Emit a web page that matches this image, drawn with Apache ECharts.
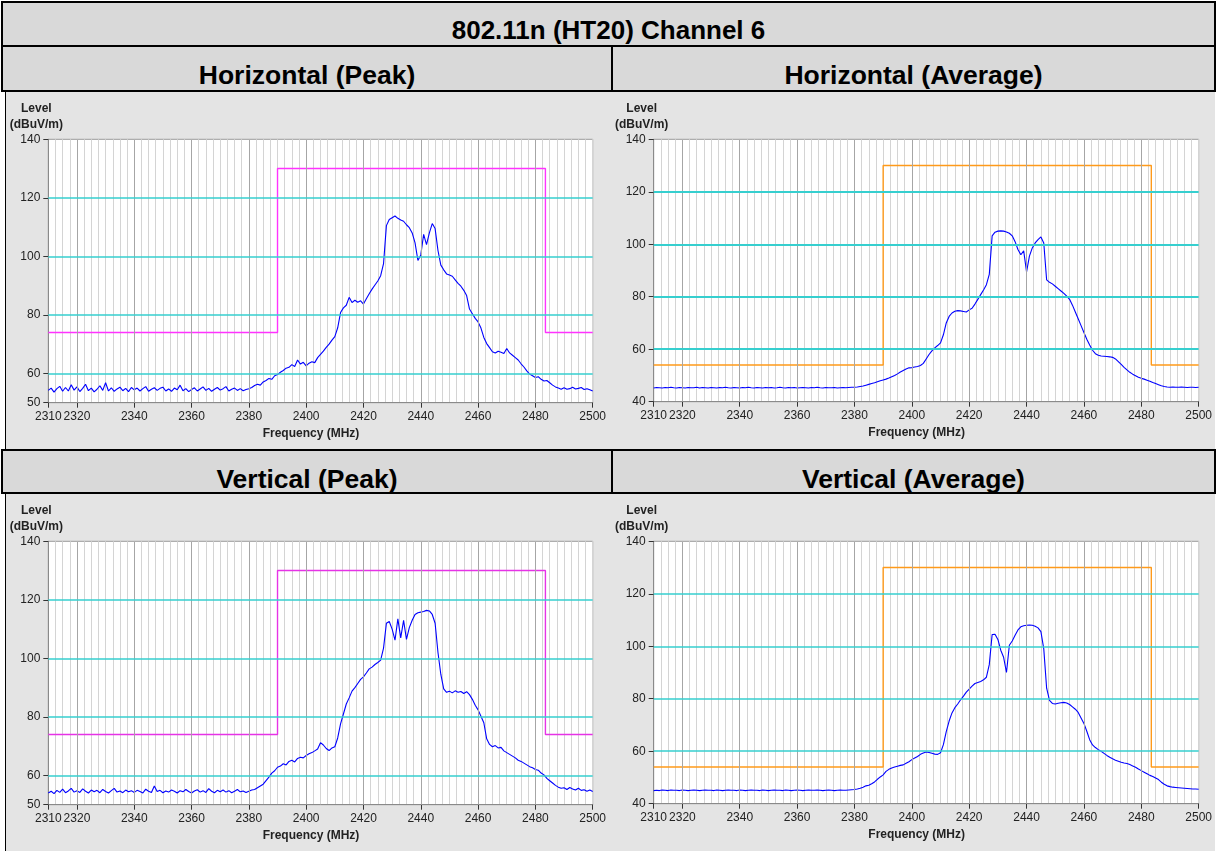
<!DOCTYPE html>
<html>
<head>
<meta charset="utf-8">
<title>802.11n (HT20) Channel 6</title>
<script src="https://cdn.jsdelivr.net/npm/echarts@6/dist/echarts.min.js"></script>
<style>
  html, body { margin: 0; padding: 0; background: #fff; }
  body { width: 1217px; height: 851px; position: relative; overflow: hidden; font-family: Arial, 'Liberation Sans', sans-serif; }
  .cell { position: absolute; background: #d9d9d9; }
  .txt { position: absolute; font-weight: bold; color: #000; text-align: center; height: 30px; line-height: 30px; white-space: nowrap; }
  .line { position: absolute; background: #000; }
  .chart { position: absolute; background: #e4e4e4; }
</style>
</head>
<body>
  <!-- header cells -->
  <div class="cell" style="left:3px;top:3px;width:1211px;height:42px;"></div>
  <div class="cell" style="left:3px;top:47px;width:608px;height:43px;"></div>
  <div class="cell" style="left:613px;top:47px;width:601px;height:43px;"></div>
  <div class="cell" style="left:3px;top:451px;width:608px;height:41px;"></div>
  <div class="cell" style="left:613px;top:451px;width:601px;height:41px;"></div>

  <div class="txt" style="left:3px;top:15px;width:1211px;font-size:26px;">802.11n (HT20) Channel 6</div>
  <div class="txt" style="left:3px;top:60px;width:608px;font-size:26.5px;">Horizontal (Peak)</div>
  <div class="txt" style="left:613px;top:60px;width:601px;font-size:26.5px;">Horizontal (Average)</div>
  <div class="txt" style="left:3px;top:464px;width:608px;font-size:26.5px;">Vertical (Peak)</div>
  <div class="txt" style="left:613px;top:464px;width:601px;font-size:26.5px;">Vertical (Average)</div>

  <!-- charts -->
  <div class="chart" id="hPeak" style="left:6px;top:92px;width:606px;height:357px;"></div>
  <div class="chart" id="hAvg" style="left:612px;top:92px;width:603px;height:357px;"></div>
  <div class="chart" id="vPeak" style="left:6px;top:494px;width:606px;height:357px;"></div>
  <div class="chart" id="vAvg" style="left:612px;top:494px;width:603px;height:357px;"></div>

  <!-- table rules -->
  <div class="line" style="left:1px;top:1px;width:1215px;height:2px;"></div>
  <div class="line" style="left:1px;top:1px;width:2px;height:91px;"></div>
  <div class="line" style="left:1px;top:449px;width:2px;height:45px;"></div>
  <div class="line" style="left:5px;top:92px;width:1px;height:357px;"></div>
  <div class="line" style="left:5px;top:494px;width:1px;height:357px;"></div>
  <div class="line" style="left:1214px;top:1px;width:2px;height:91px;"></div>
  <div class="line" style="left:1214px;top:449px;width:2px;height:45px;"></div>
  <div class="line" style="left:1px;top:45px;width:1215px;height:2px;"></div>
  <div class="line" style="left:1px;top:90px;width:1215px;height:2px;"></div>
  <div class="line" style="left:1px;top:449px;width:1215px;height:2px;"></div>
  <div class="line" style="left:1px;top:492px;width:1215px;height:2px;"></div>
  <div class="line" style="left:611px;top:45px;width:2px;height:47px;"></div>
  <div class="line" style="left:611px;top:449px;width:2px;height:45px;"></div>

<script>
// frequency grid of the traces (MHz), one point per MHz
var FREQ_START = 2310
var FREQ_END = 2500
var freqTicks = [2310, 2320, 2340, 2360, 2380, 2400, 2420, 2440, 2460, 2480, 2500]
var majorFreqs = [2320, 2340, 2360, 2380, 2400, 2420, 2440, 2460, 2480]
var peakTicks = [50, 60, 80, 100, 120, 140]
var avgTicks = [40, 60, 80, 100, 120, 140]
var levelGrid = [60, 80, 100, 120]

// limit line
var limitFreqs = [2310, 2390, 2390, 2483.5, 2483.5, 2500]
var peakLimit = [74, 74, 130, 130, 74, 74]
var avgLimit = [54, 54, 130, 130, 54, 54]

// measured levels, dBuV/m, 2310..2500 MHz
var horPeak = [
  54.2, 55.0, 53.6, 54.8, 55.6, 53.9, 55.2, 54.0, 56.1, 54.3,
  55.4, 53.8, 54.9, 56.3, 54.1, 55.0, 53.7, 54.6, 55.8, 54.2,
  56.8, 54.0, 55.1, 53.9, 54.7, 55.3, 54.1, 54.9, 53.8, 55.2,
  54.4, 55.0, 54.0, 54.8, 55.5, 53.9, 54.6, 55.1, 54.2, 54.9,
  55.3, 54.0, 54.7, 53.9, 55.0, 54.4, 56.0, 54.1, 54.8, 53.8,
  54.5, 55.1, 54.0, 54.7, 55.4, 54.2, 54.9, 53.9, 54.6, 55.2,
  54.3, 54.8, 55.5, 54.0, 54.6, 55.0, 54.2, 54.8, 54.1, 54.5,
  54.8, 55.2, 55.9, 56.3, 56.0, 57.1, 57.6, 58.3, 58.0, 59.2,
  59.6, 60.4, 61.0, 61.8, 62.1, 63.0, 62.4, 64.6, 63.2, 63.8,
  62.6, 63.5, 64.0, 63.7, 65.4, 66.5, 67.6, 68.9, 70.0, 71.4,
  72.6, 75.6, 80.8, 82.4, 83.3, 86.0, 84.2, 85.0, 84.3, 84.8,
  83.7, 85.5, 87.2, 88.8, 90.2, 91.6, 93.4, 97.5, 110.5, 112.6,
  113.2, 113.8, 113.0, 112.4, 112.0, 110.8, 109.8, 108.0, 104.6, 98.6,
  100.5, 107.5, 104.0, 108.0, 111.2, 109.5, 102.0, 97.0, 95.4, 94.0,
  93.6, 93.2, 92.0, 90.8, 89.8, 88.4, 86.6, 82.0, 80.4, 78.8,
  77.6, 75.5, 72.3, 70.2, 68.8, 67.4, 67.0, 67.6, 67.2, 66.8,
  68.5, 67.0, 66.2, 65.4, 64.6, 63.3, 62.2, 60.9, 59.8, 59.2,
  58.6, 58.9, 58.0, 57.4, 57.6, 56.8, 56.0, 55.4, 55.0, 54.6,
  55.1, 54.6, 54.8, 55.3, 54.7, 54.9, 55.2, 54.5, 54.8, 54.4,
  54.0
]
var horAvg = [
  45.2, 45.4, 45.3, 45.2, 45.4, 45.3, 45.5, 45.3, 45.2, 45.4,
  45.3, 45.2, 45.4, 45.3, 45.3, 45.5, 45.2, 45.4, 45.3, 45.2,
  45.4, 45.3, 45.2, 45.4, 45.3, 45.5, 45.3, 45.2, 45.4, 45.3,
  45.2, 45.4, 45.3, 45.5, 45.3, 45.2, 45.4, 45.3, 45.2, 45.4,
  45.3, 45.4, 45.2, 45.3, 45.5, 45.3, 45.2, 45.4, 45.3, 45.4,
  45.2, 45.3, 45.4, 45.3, 45.2, 45.4, 45.3, 45.5, 45.3, 45.2,
  45.4, 45.3, 45.3, 45.4, 45.2, 45.3, 45.4, 45.3, 45.4, 45.5,
  45.5, 45.6, 45.8, 46.0, 46.3, 46.6, 46.9, 47.2, 47.6, 48.0,
  48.3, 48.6, 49.0, 49.5, 50.0, 50.6, 51.3, 51.9, 52.5, 52.9,
  53.0, 53.2, 53.4, 53.8, 54.6, 56.3, 58.0, 59.4, 60.5, 61.4,
  62.4, 65.5, 70.0, 72.5, 73.8, 74.5, 74.7, 74.6, 74.4, 74.2,
  75.0, 75.6, 77.2, 79.0, 80.8, 82.6, 84.6, 88.5, 103.2, 104.6,
  105.0, 105.1, 105.0, 104.7, 104.2, 103.2, 101.0, 98.0, 96.0, 97.5,
  89.5, 95.5, 98.6, 100.5, 101.8, 102.8, 100.5, 86.4, 85.5, 84.9,
  84.0, 83.1, 82.2, 81.3, 80.2, 79.0, 76.8, 74.2, 71.6, 69.0,
  66.4, 63.8, 61.6, 59.6, 58.3, 57.7, 57.4, 57.3, 57.2, 57.1,
  56.9, 56.3, 55.3, 54.2, 53.1, 52.1, 51.2, 50.5, 49.9, 49.3,
  48.9, 48.6, 48.2, 47.8, 47.3, 46.9, 46.5, 46.1, 45.8, 45.6,
  45.5, 45.6, 45.5, 45.5, 45.6, 45.5, 45.4, 45.5, 45.5, 45.4,
  45.5
]
var verPeak = [
  54.0, 54.6, 53.8, 54.9, 54.2, 55.3, 54.1, 54.7, 55.6, 54.3,
  54.8, 54.2, 55.4, 54.6, 54.0, 55.0, 54.4, 54.9, 54.1, 55.2,
  54.5, 54.0, 54.8, 55.6, 54.3, 54.7, 54.1, 55.0, 54.4, 54.8,
  54.2, 54.9, 54.5, 54.0, 55.3, 54.6, 54.2, 56.4, 54.5, 54.9,
  54.1, 54.7, 54.3, 55.0, 54.6, 54.0, 54.8, 54.4, 55.2, 54.5,
  54.0, 54.7, 55.1, 54.3, 54.8, 54.2, 55.5, 54.6, 54.1, 54.9,
  54.4, 55.0, 54.3, 54.8, 54.1, 54.6, 55.2, 54.4, 54.7, 54.2,
  54.6, 55.0, 55.2, 55.8, 56.4, 57.0, 58.2, 59.4, 60.8, 61.6,
  62.8, 63.2, 64.0, 63.6, 64.8, 65.2, 64.6, 65.8, 66.2, 66.0,
  66.8, 67.4, 67.8, 68.4, 69.0, 71.2, 70.4, 69.2, 68.5, 69.4,
  69.8, 72.8, 77.6, 81.0, 84.4, 86.5, 88.8, 90.0, 91.4, 92.8,
  93.7, 95.0, 96.4, 97.0, 97.9, 98.6, 99.4, 103.5, 112.0, 112.6,
  110.0, 106.2, 113.5, 107.0, 113.0, 106.5, 110.5, 113.0, 115.0, 115.6,
  115.8, 116.0, 116.4, 116.2, 115.0, 112.0, 102.0, 94.5, 89.6, 88.4,
  88.8, 88.2, 88.9, 88.4, 88.7, 88.0, 88.6, 87.6, 86.0, 84.0,
  82.4, 80.2, 78.0, 72.5, 70.6, 69.8, 70.2, 69.4, 69.6, 68.4,
  67.8, 67.2, 66.6, 66.0, 65.2, 64.8, 64.2, 63.6, 63.0, 62.6,
  62.0, 61.8, 60.8, 60.2, 59.0, 58.2, 57.4, 56.6, 56.0, 55.6,
  55.8, 55.2, 55.9, 55.4, 55.0, 55.6, 54.9, 55.1, 54.6, 55.0,
  54.5
]
var verAvg = [
  45.0, 45.1, 45.0, 45.2, 45.1, 45.0, 45.2, 45.1, 45.1, 45.0,
  45.2, 45.1, 45.0, 45.1, 45.2, 45.1, 45.0, 45.1, 45.2, 45.1,
  45.1, 45.0, 45.2, 45.1, 45.0, 45.1, 45.2, 45.1, 45.1, 45.0,
  45.2, 45.1, 45.0, 45.1, 45.2, 45.1, 45.1, 45.0, 45.2, 45.1,
  45.0, 45.1, 45.2, 45.1, 45.1, 45.0, 45.2, 45.1, 45.0, 45.1,
  45.2, 45.1, 45.0, 45.1, 45.2, 45.1, 45.1, 45.2, 45.1, 45.0,
  45.1, 45.2, 45.1, 45.0, 45.1, 45.2, 45.1, 45.1, 45.2, 45.3,
  45.4, 45.6, 45.9, 46.3, 46.8, 47.0, 47.6, 48.3, 49.3, 50.2,
  51.0, 52.3, 53.1, 53.6, 54.0, 54.3, 54.6, 54.8, 55.4, 56.0,
  56.8, 57.4, 58.0, 58.8, 59.3, 59.7, 59.5, 59.2, 58.9, 58.8,
  59.4, 62.5, 67.5, 71.5, 74.6, 76.6, 78.0, 79.6, 81.0, 82.5,
  83.7, 84.8, 85.8, 86.2, 86.6, 87.2, 88.2, 93.0, 104.5, 104.6,
  102.6, 98.5, 95.8, 90.0, 100.4, 102.0, 104.2, 106.2, 107.4, 107.8,
  108.0, 108.1, 108.0, 107.6, 107.0, 105.6, 99.0, 84.0, 79.4, 78.2,
  78.0, 78.3, 78.5, 78.6, 78.4, 77.8, 76.9, 76.0, 74.8, 72.7,
  70.6, 67.6, 64.4, 62.4, 61.4, 60.6, 60.0, 59.2, 58.4, 57.7,
  57.1, 56.6, 56.2, 55.8, 55.5, 55.3, 54.9, 54.4, 53.9, 53.2,
  52.6, 52.0, 51.4, 50.8, 50.4, 49.8, 49.2, 48.2, 47.4, 46.8,
  46.5, 46.3, 46.2, 46.1, 46.0, 45.9, 45.8, 45.7, 45.6, 45.6,
  45.5
]

var FONT = 'Arial, "Liberation Sans", sans-serif'

function pairs(xs, ys) {
  var res = []
  for (var i = 0; i < ys.length; i++) res.push([xs[i], ys[i]])
  return res
}

var freqs = []
for (var f = FREQ_START; f <= FREQ_END; f++) freqs.push(f)

function plain(v) {
  return String(v)
}

function initChart(id, trace, limit, limitColor, yMin, yInterval, yTicks, gridLeft, gridRight, gridBottom, cyanWidth) {
  var chart = echarts.init(document.getElementById(id))
  var gridMarks = majorFreqs.map(function(v) {
    return { xAxis: v, lineStyle: { color: '#a6a6a6', width: 1, type: 'solid' } }
  }).concat(levelGrid.map(function(v) {
    return { yAxis: v, lineStyle: { color: '#36cfcf', width: cyanWidth, type: 'solid' } }
  }))
  chart.setOption({
    animation: false,
    textStyle: { fontFamily: FONT },
    grid: {
      left: gridLeft, right: gridRight, top: 47.3, bottom: gridBottom,
      show: true, backgroundColor: '#fff', borderColor: '#9a9a9a', borderWidth: 1
    },
    xAxis: [
      {
        type: 'value',
        min: FREQ_START,
        max: FREQ_END,
        interval: 2.5,
        name: 'Frequency (MHz)',
        nameLocation: 'middle',
        nameGap: 25,
        nameTextStyle: { fontFamily: FONT, fontWeight: 'bold', fontSize: 12, color: '#222', padding: [0, 19, 0, 0] },
        axisLine: { show: true, lineStyle: { color: '#8a8a8a', width: 1 } },
        axisTick: { show: true, customValues: freqTicks, length: 5, lineStyle: { color: '#333' } },
        axisLabel: {
          customValues: freqTicks, formatter: plain, showMinLabel: true, showMaxLabel: true, hideOverlap: false,
          color: '#222', fontSize: 12, margin: 8, fontFamily: FONT
        },
        splitLine: { show: false }
      },
      {
        // fine 2.5 MHz grid
        type: 'value',
        min: FREQ_START,
        max: FREQ_END,
        interval: 2.5,
        position: 'bottom',
        axisLine: { show: false },
        axisTick: { show: false },
        axisLabel: { show: false },
        splitLine: { show: true, lineStyle: { color: '#d4d4d4', width: 1 } }
      }
    ],
    yAxis: {
      type: 'value',
      min: yMin,
      max: 140,
      interval: yInterval,
      name: 'Level\n(dBuV/m)',
      nameLocation: 'end',
      nameGap: 7,
      nameTextStyle: {
        fontFamily: FONT, fontWeight: 'bold', fontSize: 12, lineHeight: 16, color: '#222',
        align: 'center', verticalAlign: 'bottom', padding: [0, 24, 0, 0]
      },
      axisLine: { show: true, lineStyle: { color: '#8a8a8a', width: 1 } },
      axisTick: { show: true, customValues: yTicks, length: 5, lineStyle: { color: '#333' } },
      axisLabel: { customValues: yTicks, formatter: plain, color: '#222', fontSize: 12, margin: 8, fontFamily: FONT },
      splitLine: { show: false }
    },
    series: [
      {
        name: 'grid',
        type: 'line',
        data: [],
        silent: true,
        z: 1,
        markLine: { silent: true, symbol: ['none', 'none'], label: { show: false }, data: gridMarks }
      },
      {
        name: 'Limit',
        type: 'line',
        data: pairs(limitFreqs, limit),
        showSymbol: false,
        silent: true,
        z: 2,
        lineStyle: { color: limitColor, width: 1.4 }
      },
      {
        name: 'Level',
        type: 'line',
        data: pairs(freqs, trace),
        showSymbol: false,
        silent: true,
        z: 3,
        lineStyle: { color: '#0000ff', width: 1.1 }
      }
    ]
  })
  return chart
}

initChart('hPeak', horPeak, peakLimit, '#ff33ff', 50, 10, peakTicks, 42.3, 19.3, 46.3, 1.5)
initChart('hAvg', horAvg, avgLimit, '#ff9a1a', 40, 20, avgTicks, 41.7, 16, 47.3, 2)
initChart('vPeak', verPeak, peakLimit, '#e633e6', 50, 10, peakTicks, 42.3, 19.3, 46.3, 1.5)
initChart('vAvg', verAvg, avgLimit, '#ff9a1a', 40, 20, avgTicks, 41.7, 16, 47.3, 1.5)
</script>
</body>
</html>
